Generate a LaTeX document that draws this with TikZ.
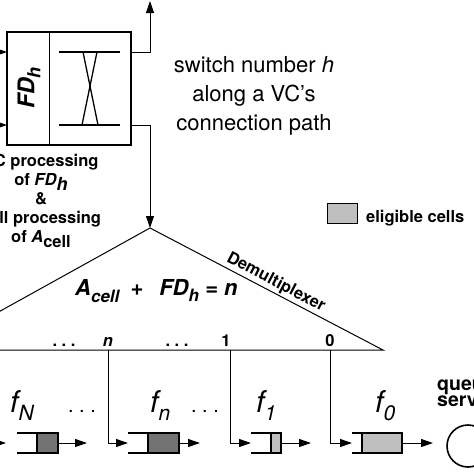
\documentclass[tikz,border=0pt]{standalone}
\usepackage{fontspec}
\setmainfont{TeX Gyre Heros}
\usetikzlibrary{arrows.meta}
\def\cellqueue(#1:#2:#3)[#4]{\draw[line width=1.2pt] (#1, 433) -- (#3, 433) -- (#3, 453) -- (#1, 453); \draw[line width=1.2pt, fill=#4] (#2, 433) rectangle (#3, 453);}
\newcommand\lowsub[3]{\raisebox{#1}{\fontsize{#2}{#2}\selectfont #3}}
\tikzset{
	flow/.style={-{Triangle[length=12pt, width=8pt]}},
	conn/.style={line width=1pt},
	boldtext/.style={font=\fontsize{16.5}{18.8}\selectfont\bfseries, inner sep=0pt},
	flabel/.style={font=\fontsize{30}{30}\selectfont\itshape, inner sep=0pt, anchor=base west},
}

\begin{document}
\begin{tikzpicture}[x=1pt, y=-1pt]
		\useasboundingbox (0, 0) rectangle (474, 474);
		\clip (0, 0) rectangle (474, 474);
		%%%%% SWITCH %%%%%
		
		\draw[line width=1.3pt] (7, 32) rectangle (131, 145);
		\draw[line width=1pt] (49, 32) -- (49, 145);
		\draw[line width=1.3pt] (59, 52) -- (120, 52);
		\draw[line width=1.3pt] (59, 125) -- (120, 125);
		\draw[line width=1.3pt] (83, 52) -- (98, 125);
		\draw[line width=1.3pt] (97, 52) -- (82, 125);
		\node[rotate=90, font=\fontsize{23}{23}\selectfont\bfseries\itshape, inner sep=0pt] (fd label) at (29, 88) {FD\lowsub{-6pt}{18}{h}};
		
		\coordinate (in high) at (-20, 52);
		\coordinate (in low) at (-20, 125);
		\coordinate (port high) at (7, 52);
		\coordinate (port low) at (7, 125);
		\draw[conn, flow] (in high) -- (port high);
		\draw[conn, flow] (in low) -- (port low);
		
		\coordinate (out high) at (131, 52);
		\coordinate (out low) at (131, 125);
		\coordinate (next switch) at (150, 1);
		\coordinate (apex) at (150, 228);
		\draw[conn, flow] (out high) -| (next switch);
		\draw[conn, flow] (out low) -| (apex);
		
		\node[font=\fontsize{22}{29}\selectfont, align=center, inner sep=0pt] (caption) at (254, 96) {switch number \textit{h}\\along a VC's\\connection path};
		\node[boldtext, align=center] (processing) at (41, 201) {VC processing\\of \textit{FD}\lowsub{-5pt}{18}{\textit{h}}\\\&\\cell processing\\of \textit{A}\lowsub{-5pt}{16.5}{cell}};
		
		%%%%% DEMULTIPLEXER %%%%%
		
		\coordinate (demux left) at (-70, 350);
		\coordinate (demux right) at (383, 350);
		\draw[conn] (demux left) -- (apex) -- (demux right) -- cycle;
		\path (apex) -- (demux right) node[pos=0.52, sloped, above=2pt, boldtext, font=\fontsize{16.5}{16.5}\selectfont\bfseries] (demux label) {Demultiplexer};
		\node[font=\fontsize{22}{22}\selectfont\bfseries\itshape, anchor=base west, inner sep=0pt] (rule) at (75, 295) {A\lowsub{-7pt}{17}{cell}\hspace{11pt}+\hspace{16pt}FD\lowsub{-6pt}{17}{h} = n};
		
		\node[boldtext, anchor=base] (dots a) at (64, 346) {.\ .\ .};
		\node[boldtext, anchor=base] (port n) at (108, 346) {\itshape n};
		\node[boldtext, anchor=base] (dots b) at (177, 346) {.\ .\ .};
		\node[boldtext, anchor=base] (port 1) at (226, 346) {1};
		\node[boldtext, anchor=base] (port 0) at (330, 346) {0};
		
		\draw[conn, flow] (108, 350) |- (128, 443);
		\draw[conn, flow] (230, 350) |- (251, 443);
		\draw[conn, flow] (330, 350) |- (352, 443);
		
		%%%%% QUEUES %%%%%
		
		\draw[conn, flow] (-20, 443) -- (6, 443);
		\cellqueue(17:37:58)[black!55];
		\cellqueue(128:148:179)[black!55];
		\cellqueue(251:271:281)[black!25];
		\cellqueue(352:362:402)[black!25];
		\draw[conn, flow] (58, 443) -- ++(29, 0);
		\draw[conn, flow] (179, 443) -- ++(21, 0);
		\draw[conn, flow] (281, 443) -- ++(30, 0);
		\draw[conn, flow] (402, 443) -- ++(31, 0);
		
		\node[flabel] (f N) at (10, 412) {f\lowsub{-8pt}{21}{N}};
		\node[flabel] (f n) at (150, 412) {f\lowsub{-8pt}{21}{n}};
		\node[flabel] (f 1) at (256, 412) {f\lowsub{-8pt}{21}{1}};
		\node[flabel] (f 0) at (375, 412) {f\lowsub{-8pt}{21}{0}};
		\node[font=\fontsize{20}{20}\selectfont, anchor=base, inner sep=0pt] (dots c) at (82, 412) {.\ .\ .};
		\node[font=\fontsize{20}{20}\selectfont, anchor=base, inner sep=0pt] (dots d) at (205, 412) {.\ .\ .};
		
		\node[draw, circle, line width=1.6pt, minimum size=42pt, inner sep=0pt] (server) at (468, 446) {};
		\node[boldtext, font=\fontsize{19.5}{13.5}\selectfont\bfseries, align=left, anchor=north west] (server label) at (437, 380) {queue\\server};
		
		%%%%% LEGEND %%%%%
		
		\draw[line width=0.8pt, fill=black!25] (327, 203) rectangle (357, 223);
		\node[boldtext, anchor=base west] (legend) at (366, 222) {eligible cells};
		
	\end{tikzpicture}
\end{document}
